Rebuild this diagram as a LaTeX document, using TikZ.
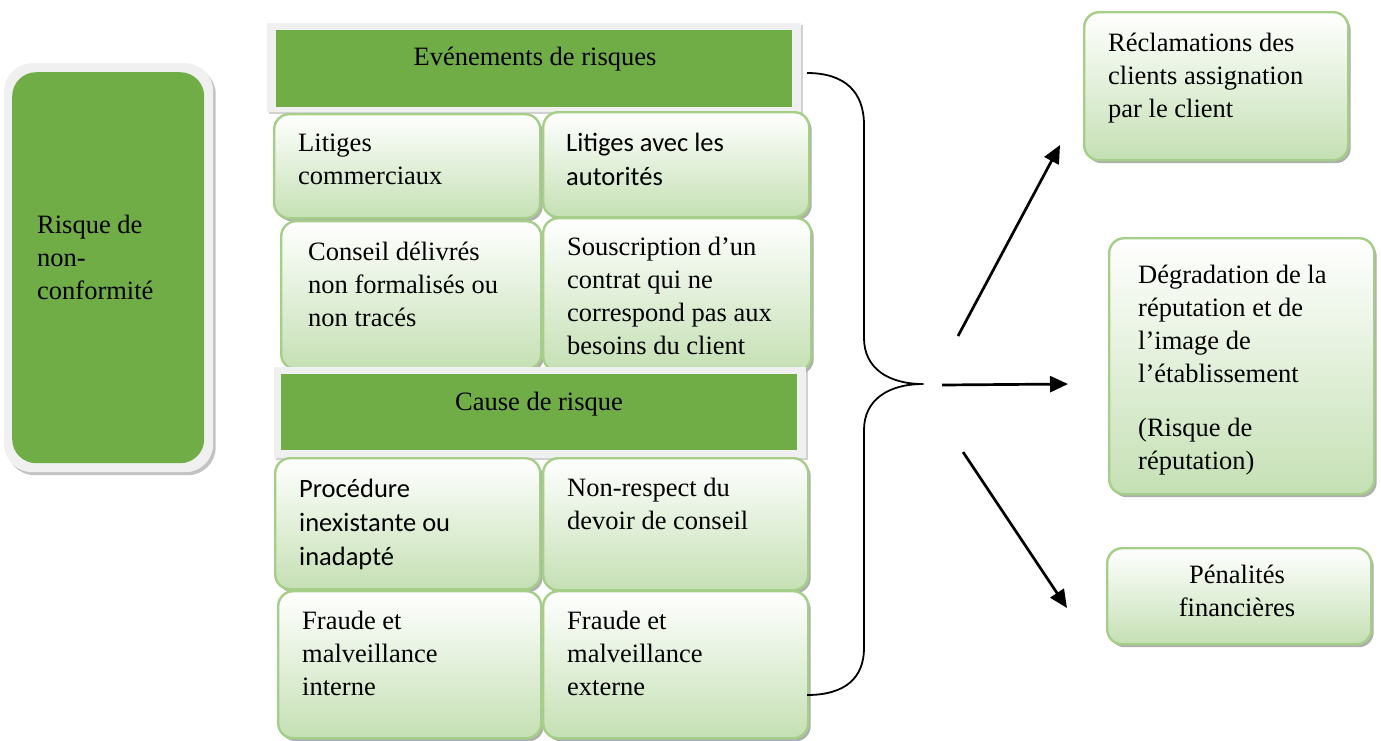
\documentclass[tikz,border=0pt]{standalone}
\usepackage{fontspec}
\setmainfont{Liberation Serif}
\newfontfamily\calibrifont{Carlito}
\usetikzlibrary{shadows,arrows.meta}
\definecolor{leafgreen}{HTML}{70AD47}
\definecolor{framegray}{HTML}{F0F0F0}
\definecolor{boxedge}{HTML}{A5CF88}
\definecolor{boxfill}{HTML}{C5E0B4}
\tikzset{
  shadowed/.style={drop shadow={shadow xshift=2.5pt,shadow yshift=-3pt,fill=black!45,opacity=.7}},
  lightbox/.style={rectangle, rounded corners=15pt, draw=boxedge, line width=2.4pt,
    top color=white, bottom color=boxfill, anchor=north west, inner sep=0, shadowed},
  framebox/.style={rectangle, fill=framegray, anchor=north west, inner sep=0,
    drop shadow={shadow xshift=2pt,shadow yshift=-2pt,fill=black!30,opacity=.6}},
  headbox/.style={rectangle, fill=leafgreen, anchor=north west, inner sep=0},
  serif/.style={font=\fontsize{26.5}{33}\selectfont, anchor=north west, inner sep=0,
    text width=300pt, align=flush left,
    execute at begin node={\spaceskip=0pt\xspaceskip=0pt\strut}},
  sans/.style={font=\calibrifont\fontsize{26.5}{34}\selectfont, anchor=north west, inner sep=0,
    text width=300pt, align=flush left,
    execute at begin node={\spaceskip=0pt\xspaceskip=0pt\strut}},
  title/.style={font=\fontsize{26.5}{33}\selectfont, anchor=base, inner sep=0},
  conn/.style={line width=2.7pt, -{Triangle[length=18pt,width=16pt]}},
  bracket/.style={line width=1.8pt, line join=round}
}
\begin{document}
\begin{tikzpicture}[x=1pt,y=-1pt]
\useasboundingbox (0,0) rectangle (1381,740);

% left block
\node[rectangle, rounded corners=28pt, fill=framegray, anchor=north west, inner sep=0,
  minimum width=209, minimum height=409,
  drop shadow={shadow xshift=2.5pt,shadow yshift=-3pt,fill=black!40,opacity=.6}] (riskframe) at (4,63) {};
\node[rectangle, rounded corners=24pt, fill=leafgreen, anchor=north west, inner sep=0,
  minimum width=192, minimum height=391] (risk) at (12,72) {};
\node[serif] (risktxt) at (37,210) {Risque de\\non-\\conformité};

% events of risk
\node[framebox, minimum width=534, minimum height=89] (evframe) at (267,23) {};
\node[headbox, minimum width=516, minimum height=77] (ev) at (276,30) {};
\node[title] (evtxt) at (535,65) {Evénements de risques};

\node[lightbox, minimum width=266, minimum height=104] (ev1) at (273,113) {};
\node[lightbox, minimum width=266, minimum height=105] (ev2) at (542,111) {};
\node[serif] (ev1txt) at (298,128) {Litiges\\commerciaux};
\node[sans] (ev2txt) at (566,127) {Litiges avec les\\autorités};

\node[lightbox, minimum width=260, minimum height=148] (ev3) at (280,220) {};
\node[lightbox, minimum width=268, minimum height=153] (ev4) at (542,217) {};
\node[serif] (ev3txt) at (308,237) {Conseil délivrés\\non formalisés ou\\non tracés};
\node[serif] (ev4txt) at (567,232) {Souscription d’un\\contrat qui ne\\correspond pas aux\\besoins du client};

% causes of risk
\node[framebox, minimum width=532, minimum height=91] (caframe) at (274,367) {};
\node[headbox, minimum width=516, minimum height=76] (ca) at (281,374) {};
\node[title] (catxt) at (539,410) {Cause de risque};

\node[lightbox, minimum width=265, minimum height=131] (ca1) at (274,457) {};
\node[lightbox, minimum width=265, minimum height=132] (ca2) at (542,457) {};
\node[sans] (ca1txt) at (299,473) {Procédure\\inexistante ou\\inadapté};
\node[serif] (ca2txt) at (567,473) {Non-respect du\\devoir de conseil};

\node[lightbox, minimum width=263, minimum height=147] (ca3) at (277,590) {};
\node[lightbox, minimum width=265, minimum height=147] (ca4) at (542,590) {};
\node[serif] (ca3txt) at (302,606) {Fraude et\\malveillance\\interne};
\node[serif] (ca4txt) at (567,606) {Fraude et\\malveillance\\externe};

% brace gathering both groups
\coordinate (btop) at (807,73);
\coordinate (btip) at (923,384);
\coordinate (bbot) at (807,695);
\draw[bracket] (btop) .. controls (845,73) and (864,92) .. (864,125) -- (864,338)
  .. controls (864,368) and (888,384) .. (btip)
  .. controls (888,384) and (864,400) .. (864,430) -- (864,648)
  .. controls (864,678) and (845,695) .. (bbot);

% consequences
\node[lightbox, minimum width=264, minimum height=148] (claim) at (1083,11) {};
\node[serif] (claimtxt) at (1108,28) {Réclamations des\\clients assignation\\par le client};

\node[lightbox, minimum width=265, minimum height=256] (repu) at (1108,237) {};
\node[serif] (reputxt) at (1138,260) {Dégradation de la\\réputation et de\\l’image de\\l’établissement\\[21pt](Risque de\\réputation)};

\node[lightbox, minimum width=264, minimum height=96] (fine) at (1106,547) {};
\node[font=\fontsize{26.5}{33}\selectfont, anchor=north, inner sep=0, text width=240pt,
  align=center, execute at begin node={\spaceskip=0pt\xspaceskip=0pt\strut}]
  (finetxt) at (1237,560) {Pénalités\\financières};

% arrows
\coordinate (a1s) at (958,336);
\coordinate (a1e) at (1060,145);
\coordinate (a2s) at (942,385);
\coordinate (a2e) at (1068,384);
\coordinate (a3s) at (963,452);
\coordinate (a3e) at (1067,608);
\draw[conn] (a1s) -- (a1e);
\draw[conn] (a2s) -- (a2e);
\draw[conn] (a3s) -- (a3e);
\end{tikzpicture}
\end{document}
